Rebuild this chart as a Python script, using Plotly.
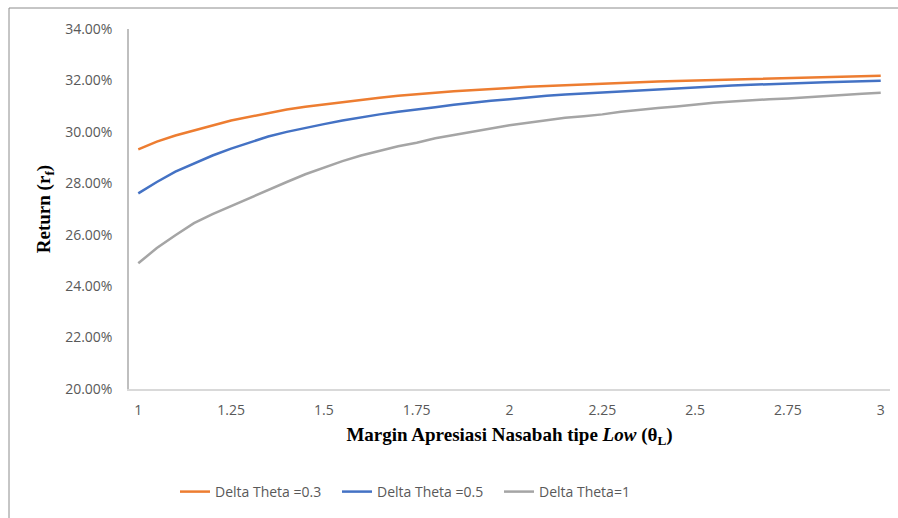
import plotly.graph_objects as go

# Margin apresiasi (theta_L) from 1.00 to 3.00 in steps of 0.05
theta_l = [round(1 + 0.05 * i, 2) for i in range(41)]

return_dt03 = [29.32, 29.62, 29.86, 30.07, 30.25, 30.44, 30.59, 30.73, 30.87, 30.98,
               31.07, 31.17, 31.25, 31.33, 31.40, 31.47, 31.52, 31.58, 31.63, 31.67,
               31.71, 31.75, 31.78, 31.82, 31.85, 31.89, 31.92, 31.95, 31.96, 31.98,
               32.00, 32.02, 32.05, 32.07, 32.09, 32.10, 32.12, 32.14, 32.15, 32.17,
               32.18]
return_dt05 = [27.61, 28.05, 28.45, 28.78, 29.08, 29.35, 29.60, 29.82, 30.00, 30.16,
               30.30, 30.44, 30.57, 30.68, 30.78, 30.88, 30.96, 31.05, 31.14, 31.21,
               31.27, 31.34, 31.40, 31.45, 31.49, 31.54, 31.58, 31.62, 31.65, 31.69,
               31.73, 31.76, 31.80, 31.83, 31.86, 31.89, 31.91, 31.93, 31.95, 31.97,
               31.99]
return_dt1 = [24.89, 25.48, 25.98, 26.45, 26.80, 27.12, 27.44, 27.75, 28.05, 28.35,
              28.62, 28.86, 29.08, 29.27, 29.44, 29.58, 29.75, 29.88, 30.01, 30.13,
              30.26, 30.35, 30.45, 30.55, 30.61, 30.68, 30.78, 30.86, 30.93, 30.99,
              31.07, 31.13, 31.18, 31.23, 31.27, 31.30, 31.35, 31.40, 31.44, 31.48,
              31.52]

series_names = ["Delta Theta =0.3", "Delta Theta =0.5", "Delta Theta=1"]
series_colors = ["#ED7D31", "#4472C4", "#A5A5A5"]

x_ticks = [1, 1.25, 1.5, 1.75, 2, 2.25, 2.5, 2.75, 3]
x_tick_text = ["1", "1.25", "1.5", "1.75", "2", "2.25", "2.5", "2.75", "3"]
y_ticks = [20, 22, 24, 26, 28, 30, 32, 34]
y_tick_text = [f"{v:.2f}%" for v in y_ticks]

W, H = 898, 518
ML, MR, MT, MB = 129, 8, 29, 129
pw, ph = W - ML - MR, H - MT - MB


def px_to_paper_x(px):
    return (px - ML) / pw


def px_to_paper_y(py):
    return (H - MB - py) / ph


fig = go.Figure()
for name, vals, col in zip(series_names, [return_dt03, return_dt05, return_dt1], series_colors):
    fig.add_trace(go.Scatter(x=theta_l, y=vals, mode="lines", name=name,
                             line=dict(color=col, width=2.5)))

tick_font = dict(family="Open Sans, Lato, sans-serif", size=14, color="#595959")
title_font = dict(family="Liberation Serif, Times New Roman, serif", size=19, color="#000000")

fig.update_layout(
    width=W, height=H,
    margin=dict(l=ML, r=MR, t=MT, b=MB),
    paper_bgcolor="white", plot_bgcolor="white",
    showlegend=True,
    legend=dict(orientation="h", x=px_to_paper_x(418), xanchor="center",
                y=px_to_paper_y(476), yanchor="top",
                font=dict(family="Open Sans, Lato, sans-serif", size=14, color="#595959"),
                itemwidth=30, tracegroupgap=0,
                entrywidth=117, entrywidthmode="pixels"),
    xaxis=dict(range=[0.975, 3.025], tickvals=x_ticks, ticktext=x_tick_text,
               showgrid=False, zeroline=False, showline=True, linecolor="#D9D9D9",
               linewidth=1.5, ticks="outside", ticklen=7, tickcolor="rgba(0,0,0,0)",
               tickfont=tick_font,
               title=dict(text="<b>Margin Apresiasi Nasabah tipe <i>Low</i> (θ<sub>L</sub>)</b>",
                          font=title_font, standoff=10)),
    yaxis=dict(range=[20, 34], tickvals=y_ticks, ticktext=y_tick_text,
               showgrid=False, zeroline=False, showline=True, linecolor="#BFBFBF",
               linewidth=1.5, ticks="outside", ticklen=12, tickcolor="rgba(0,0,0,0)",
               tickfont=tick_font,
               title=dict(text="<b>Return (r<sub>f</sub>)</b>", font=title_font, standoff=10)),
)

# Frame around the chart area (left and top edges fall inside the page)
fig.add_shape(type="rect", xref="paper", yref="paper",
              x0=px_to_paper_x(9), x1=px_to_paper_x(W + 20),
              y0=px_to_paper_y(H + 20), y1=px_to_paper_y(8),
              line=dict(color="#8C8C8C", width=1), fillcolor="rgba(0,0,0,0)", layer="below")

fig.write_html("out.html")
